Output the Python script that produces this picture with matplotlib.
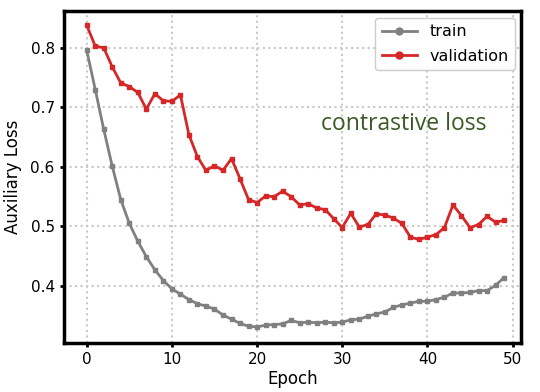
import numpy as np
import matplotlib.pyplot as plt
from matplotlib.lines import Line2D

# loss values read per epoch
epochs = np.arange(50)
train_loss = [0.796, 0.730, 0.663, 0.601, 0.545, 0.505, 0.475, 0.449, 0.427, 0.409,
              0.395, 0.386, 0.377, 0.370, 0.366, 0.361, 0.351, 0.344, 0.337, 0.332,
              0.331, 0.334, 0.335, 0.336, 0.342, 0.338, 0.339, 0.338, 0.339, 0.338,
              0.339, 0.343, 0.344, 0.349, 0.353, 0.356, 0.364, 0.368, 0.371, 0.374,
              0.374, 0.377, 0.381, 0.388, 0.388, 0.389, 0.392, 0.392, 0.401, 0.414]
val_loss = [0.838, 0.803, 0.800, 0.768, 0.741, 0.735, 0.725, 0.697, 0.723, 0.711,
            0.710, 0.721, 0.654, 0.617, 0.594, 0.602, 0.594, 0.614, 0.580, 0.545,
            0.540, 0.551, 0.550, 0.559, 0.550, 0.536, 0.538, 0.531, 0.528, 0.513,
            0.498, 0.522, 0.499, 0.503, 0.521, 0.519, 0.514, 0.505, 0.482, 0.478,
            0.482, 0.486, 0.498, 0.536, 0.518, 0.498, 0.503, 0.517, 0.507, 0.510]

train_color = 'gray'
val_color = '#d62728'

fig = plt.figure(figsize=(5.4, 3.92), dpi=100)
ax = fig.add_axes([0.118, 0.125, 0.847, 0.847])

ax.plot(epochs, train_loss, color=train_color, lw=2, marker='s', ms=3.5)
ax.plot(epochs, val_loss, color=val_color, lw=2, marker='s', ms=3.5)

ax.set_xlim(-2.7, 51.0)
ax.set_ylim(0.304, 0.862)
ax.set_yticks([0.4, 0.5, 0.6, 0.7, 0.8])
ax.set_xticks([0, 10, 20, 30, 40, 50])
ax.grid(True, linestyle=':', color='#c8c8c8', lw=1.5)
for s in ax.spines.values():
    s.set_linewidth(2.5)
ax.tick_params(labelsize=11, width=2, length=3)

ax.set_xlabel('Epoch', fontsize=12, labelpad=2)
ax.set_ylabel('Auxiliary Loss', fontsize=12, labelpad=6)
ax.text(37.2, 0.672, 'contrastive loss', color='#3b5a23', fontsize=16.5,
        family='Open Sans', ha='center', va='center')

handles = [Line2D([], [], color=train_color, lw=2, marker='o', ms=5),
           Line2D([], [], color=val_color, lw=2, marker='o', ms=5)]
ax.legend(handles, ['train', 'validation'], loc='upper right', fontsize=11.5,
          fancybox=True, framealpha=1, borderpad=0.4, handlelength=2.2,
          labelspacing=0.6, numpoints=1, borderaxespad=0,
          bbox_to_anchor=(0.987, 0.979))

fig.savefig('out.png')
